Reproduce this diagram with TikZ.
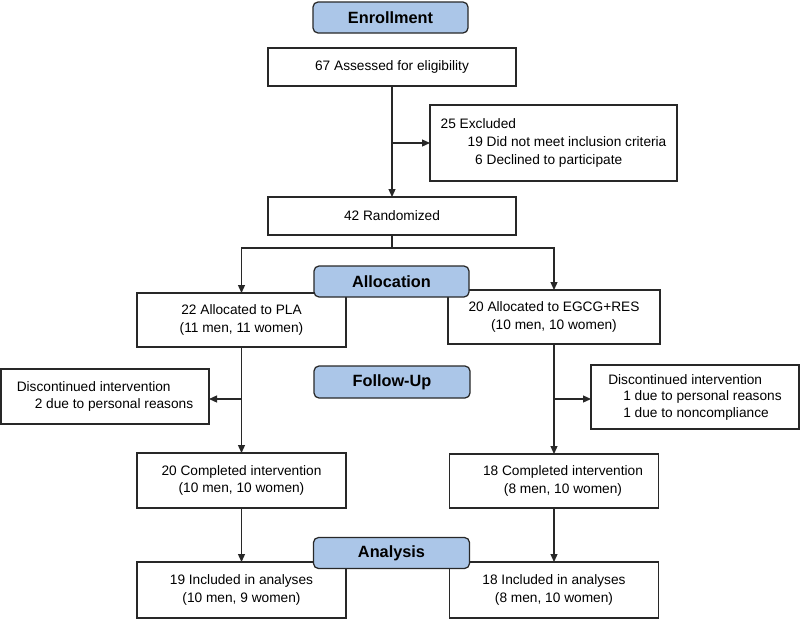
\documentclass[tikz,border=0pt]{standalone}
\usepackage{fontspec}
\setmainfont{Liberation Sans}
\usetikzlibrary{arrows.meta}
\definecolor{hdrfill}{RGB}{171,198,232}
\definecolor{lncol}{RGB}{40,40,40}
\begin{document}
\begin{tikzpicture}[x=1pt,y=-1pt,
  box/.style={draw=lncol, line width=1.25pt, fill=white, inner sep=0pt, outer sep=0pt,
    align=center, font=\fontsize{13.7}{17.5}\selectfont},
  hdrbox/.style={draw=lncol, line width=1.25pt, fill=hdrfill, rounded corners=5pt,
    inner sep=0pt, outer sep=0pt, font=\fontsize{16.3}{19}\selectfont\bfseries},
  conn/.style={draw=lncol, line width=1.25pt},
  arr/.style={conn, -{Triangle[length=8pt,width=7pt]}}]
\useasboundingbox (0,0) rectangle (800,619);

% boxes
\node[box, minimum width=248, minimum height=38] (assess) at (392,67) {67 Assessed for eligibility};
\node[box, minimum width=247, minimum height=76, align=left,
  font=\fontsize{13.7}{18}\selectfont] (excl) at (553.5,143)
  {25 Excluded\\\hspace*{27pt}19 Did not meet inclusion criteria\\\hspace*{34.6pt}6 Declined to participate};
\node[box, minimum width=248, minimum height=38] (rand) at (392,216) {42 Randomized};
\node[box, minimum width=209, minimum height=54] (pla) at (241.5,320) {22 Allocated to PLA\\(11 men, 11 women)};
\node[box, minimum width=212, minimum height=54] (egcg) at (554,317) {20 Allocated to EGCG+RES\\(10 men, 10 women)};
\node[box, minimum width=208, minimum height=55, align=left,
  font=\fontsize{13.7}{16.5}\selectfont] (discL) at (105,396.5)
  {Discontinued intervention\\\hspace*{18pt}2 due to personal reasons};
\node[box, minimum width=208, minimum height=64, align=left,
  font=\fontsize{13.7}{16.5}\selectfont] (discR) at (695,397)
  {Discontinued intervention\\\hspace*{15pt}1 due to personal reasons\\\hspace*{15pt}1 due to noncompliance};
\node[box, minimum width=209, minimum height=55] (compL) at (241.5,480.5) {20 Completed intervention\\(10 men, 10 women)};
\node[box, minimum width=209, minimum height=54] (compR) at (554,481)
  {\hspace*{18pt}18 Completed intervention\\\hspace*{18pt}(8 men, 10 women)};
\node[box, minimum width=209, minimum height=56] (inclL) at (241.5,590) {19 Included in analyses\\(10 men, 9 women)};
\node[box, minimum width=209, minimum height=56] (inclR) at (554,590) {18 Included in analyses\\(8 men, 10 women)};

% connectors
\coordinate (bEx) at (392,143);
\draw[arr] (assess.south) -- (rand.north);
\draw[arr] (bEx) -- (excl.west |- bEx);
\coordinate (rs) at (392,248);
\draw[conn] (rand.south) -- (rs);
\draw[arr] (rs) -| (pla.north);
\draw[arr] (rs) -| (egcg.north);
\coordinate (bL) at (241.5,399);
\coordinate (bR) at (554,399);
\draw[arr] (pla.south) -- (compL.north);
\draw[arr] (bL) -- (discL.east |- bL);
\draw[arr] (egcg.south) -- (compR.north);
\draw[arr] (bR) -- (discR.west |- bR);
\draw[arr] (compL.south) -- (inclL.north);
\draw[arr] (compR.south) -- (inclR.north);

% headers
\node[hdrbox, minimum width=155, minimum height=31] (enroll) at (390.5,17.5) {Enrollment};
\node[hdrbox, minimum width=155, minimum height=31] (alloc) at (391.5,281.5) {Allocation};
\node[hdrbox, minimum width=156, minimum height=32] (follow) at (392,382) {Follow-Up};
\node[hdrbox, minimum width=156, minimum height=31] (analysis) at (391.5,553) {Analysis};
\end{tikzpicture}
\end{document}
